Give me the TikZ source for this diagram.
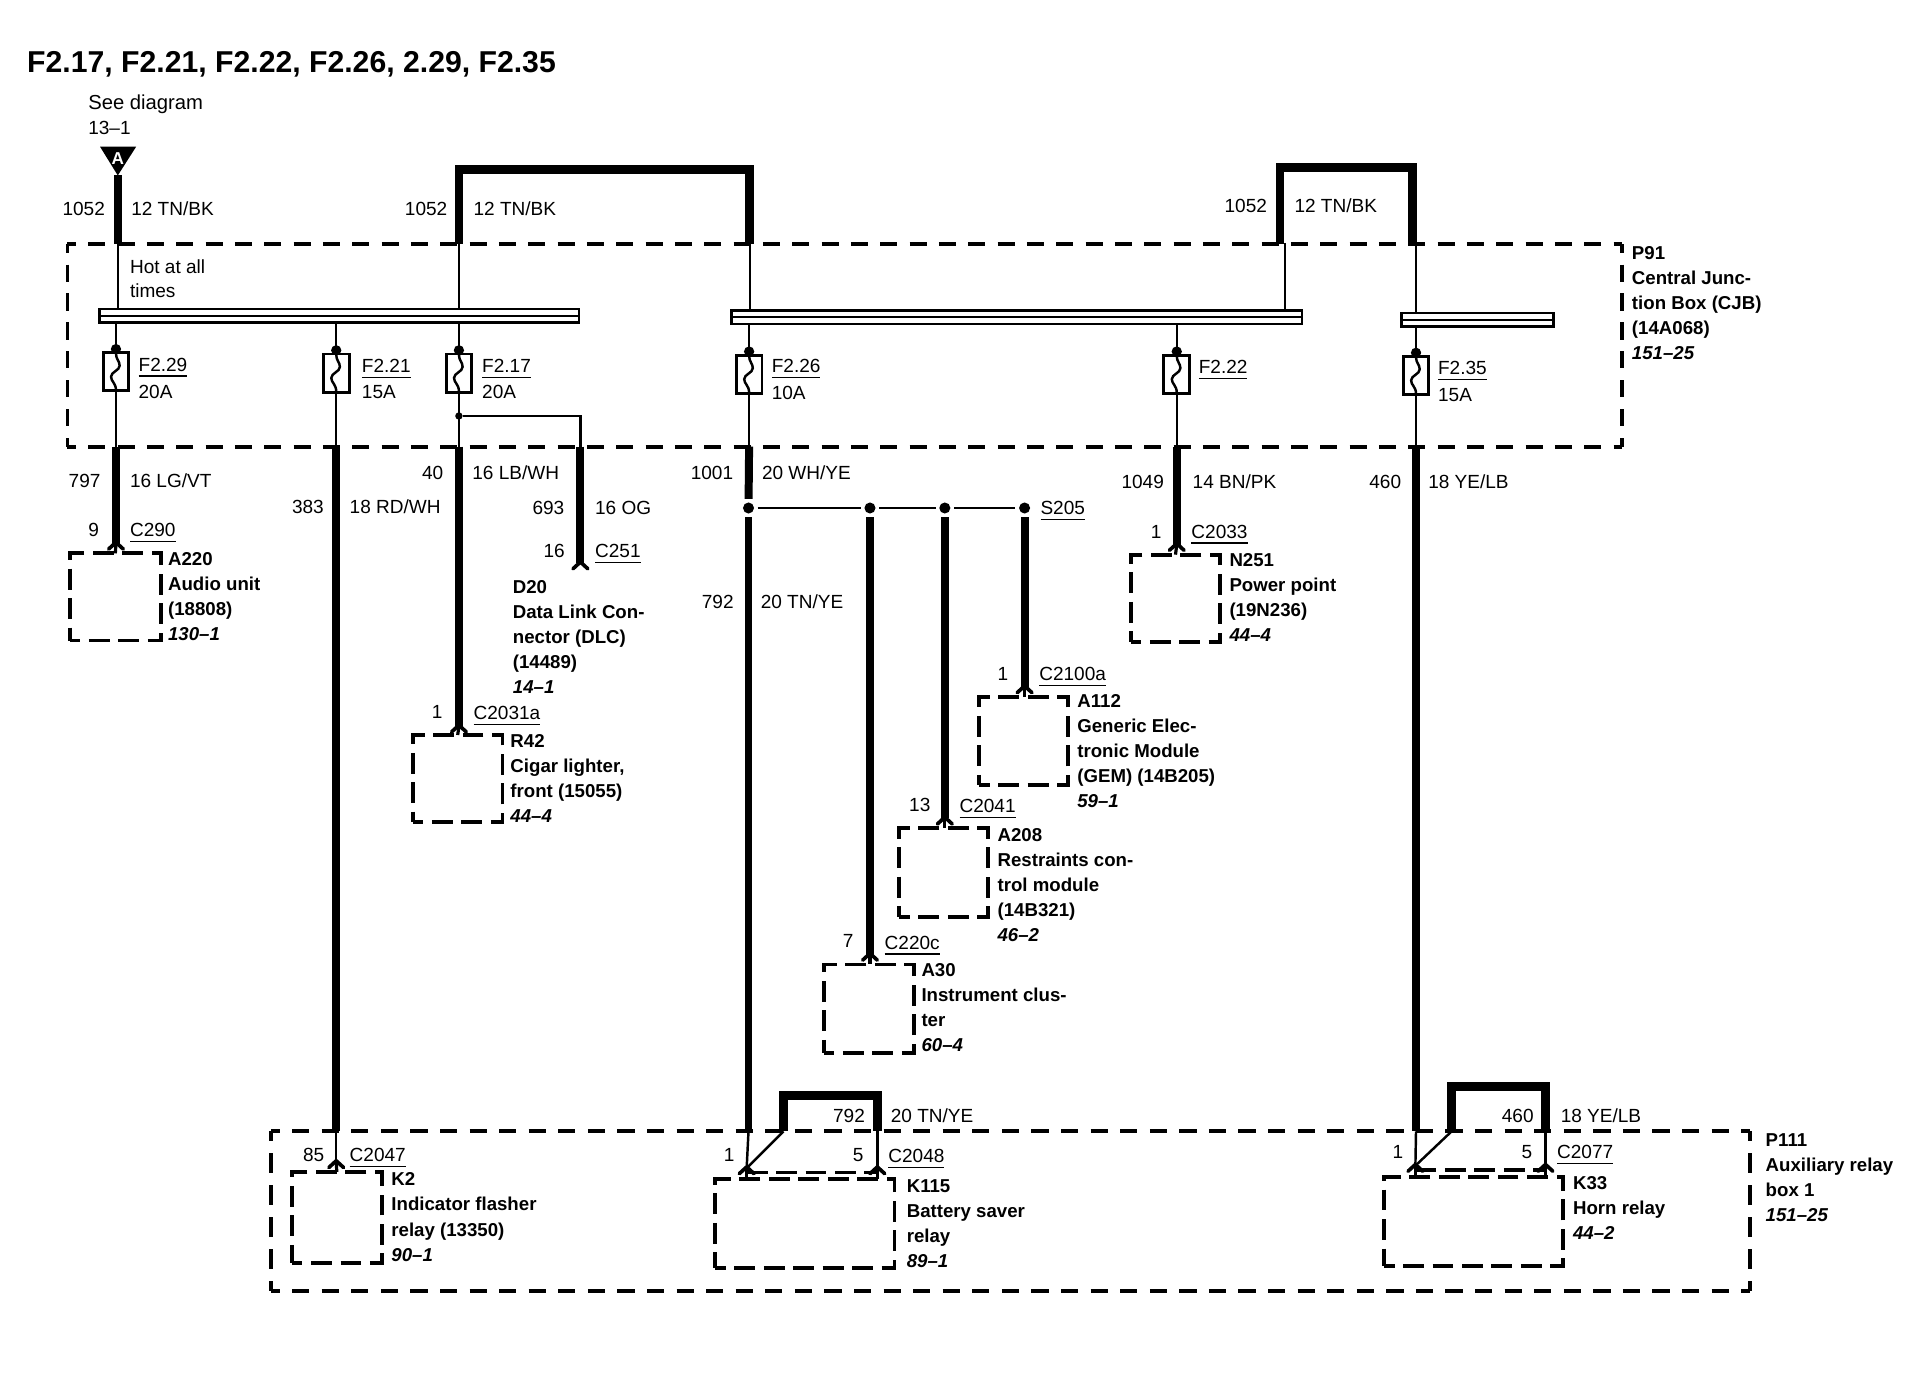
\documentclass[tikz,border=0pt]{standalone}
\usepackage{fontspec}
\setmainfont{Liberation Sans}
\newcounter{tnum}
\tikzset{
  x=1pt,y=-1pt,
  wthick/.style={line width=6.5,line cap=butt,line join=miter},
  wloop/.style={line width=7,line cap=butt,line join=miter},
  wthin/.style={line width=2,line cap=butt},
  dbox/.style={draw,line width=3.2,dash pattern=on 17 off 7,dash phase=8.5,inner sep=0,outer sep=0,rectangle,line cap=butt},
  dframe/.style={inner sep=0,outer sep=0,rectangle},
  dside/.style={line width=3.2,line cap=square},
  busbar/.style={draw,line width=2,rectangle,inner sep=0,outer sep=0,minimum height=11},
  fusebox/.style={draw,line width=2.4,rectangle,inner sep=0,outer sep=0,minimum width=21,minimum height=31},
  splice/.style={circle,fill=black,inner sep=0,outer sep=0,minimum size=9},
  lab/.style={anchor=base west,inner sep=0,outer sep=0,font=\fontsize{15.5}{20}\selectfont},
  blk/.style={anchor=north west,inner sep=0,outer sep=0,align=left,font=\fontsize{15.2}{20.4}\selectfont\bfseries},
  chevline/.style={line width=3,line cap=round,line join=round}
}
\newcommand{\T}[3]{\stepcounter{tnum}\node[lab] (t\arabic{tnum}) at (#1,{#2+5.5}) {#3};}
\newcommand{\U}[3]{\stepcounter{tnum}\node[lab] (t\arabic{tnum}) at (#1,{#2+5.5}) {\setbox0\hbox{#3}\rlap{\copy0}\rule[-4.5pt]{\wd0}{1pt}\hspace{0pt}};}
\newcommand{\B}[3]{\stepcounter{tnum}\node[blk] (t\arabic{tnum}) at (#1,{#2-6.5}) {\rule{0pt}{12pt}#3};}
\newcommand{\PR}[1]{{\itshape #1}}
\newcommand{\fuseat}[3]{%
  \node[fusebox] (#1) at (#2,#3) {};
  \fill (#1.north) ++(0,-3) circle (4.2);
  \draw[wthin,shift={(#2,#3)}] (0,-15) .. controls (0,-10) and (3,-9) .. (3,-5)
     .. controls (3,-1) and (-4,0) .. (-4,4) .. controls (-4,8) and (0,9) .. (0,15);
}
\newcommand{\chev}[2]{%
  \draw[chevline] (#1) ++(-6,4.5) -- ++(6,-5.5) -- ++(6,5.5);
  \draw[line width=2.6] (#1) -- (#2);
}
\begin{document}
\begin{tikzpicture}
\useasboundingbox (0,0) rectangle (1568,1121.4);
\fill[white] (0,0) rectangle (1568,1121.4);

% enclosures
\node[dframe,minimum width=1267,minimum height=165] (p91) at (688.5,281.5) {};
\node[dframe,minimum width=1205,minimum height=130] (p111) at (823.5,987) {};
\draw[dside,dash pattern=on 14 off 9.906,dash phase=7] (p91.north west) -- (p91.north east);
\draw[dside,dash pattern=on 14 off 9.906,dash phase=7] (p91.south west) -- (p91.south east);
\draw[dside,dash pattern=on 14 off 9.57,dash phase=7] (p91.north west) -- (p91.south west);
\draw[dside,dash pattern=on 14 off 9.57,dash phase=7] (p91.north east) -- (p91.south east);
\draw[dside,dash pattern=on 14 off 10.1,dash phase=7] (p111.north west) -- (p111.north east);
\draw[dside,dash pattern=on 14 off 10.1,dash phase=7] (p111.south west) -- (p111.south east);
\draw[dside,dash pattern=on 16 off 10,dash phase=8] (p111.north west) -- (p111.south west);
\draw[dside,dash pattern=on 16 off 10,dash phase=8] (p111.north east) -- (p111.south east);

% bus bars
\node[busbar,minimum width=391] (bar1) at (276.5,257.5) {};
\node[busbar,minimum width=465] (bar2) at (828.5,258.5) {};
\node[busbar,minimum width=124] (bar3) at (1204,260.5) {};
\foreach \b in {bar1,bar2,bar3} \draw[line width=1.6] (\b.west) -- (\b.east);

% fuses
\fuseat{f29}{94.5}{303}
\fuseat{f21}{274}{304}
\fuseat{f17}{374}{304}
\fuseat{f26}{610.5}{305}
\fuseat{f22}{959}{305}
\fuseat{f35}{1154}{306}

% components
\node[dbox,minimum width=74,minimum height=71] (a220) at (94,486.5) {};
\node[dbox,minimum width=73,minimum height=71] (r42) at (373,634.5) {};
\node[dbox,minimum width=73,minimum height=71] (n251) at (958,487.5) {};
\node[dbox,minimum width=72,minimum height=72] (a112) at (834,604) {};
\node[dbox,minimum width=72,minimum height=72] (a208) at (769,711) {};
\node[dbox,minimum width=73,minimum height=72] (a30) at (708,822) {};
\node[dbox,minimum width=73,minimum height=74] (k2) at (274.5,992) {};
\node[dbox,minimum width=146,minimum height=72] (k115) at (656,997) {};
\node[dbox,minimum width=146,minimum height=73] (k33) at (1201,995.5) {};

% named points
\coordinate (tipA) at (96,143);
\coordinate (c290) at (94.5,443);
\coordinate (c2031) at (374,592);
\coordinate (c2033) at (959,444);
\coordinate (c2100) at (835,560);
\coordinate (c2041) at (770,667);
\coordinate (c220) at (709,778);
\coordinate (c2047) at (274,947);
\coordinate (k115a) at (608.5,952);
\coordinate (k115b) at (715,952);
\coordinate (k115ap) at (608.5,961);
\coordinate (k115bp) at (715,961);
\coordinate (k33a) at (1153.5,950);
\coordinate (k33b) at (1259.5,950);
\coordinate (k33ap) at (1153.5,959);
\coordinate (k33bp) at (1259.5,959);
\coordinate (d20) at (473,459);
\node[circle,fill=black,inner sep=0,minimum size=6] (j17) at (374,339) {};
\coordinate (j17r) at (473,339);
\coordinate (loopA1) at (374,138);
\coordinate (loopA2) at (611,138);
\coordinate (loopB1) at (1043,136.5);
\coordinate (loopB2) at (1151,136.5);
\coordinate (loopB1p) at (1047,198);
\coordinate (loopB2p) at (1154,198);
\coordinate (loopC1) at (638.5,893);
\coordinate (loopC2) at (715,893);
\coordinate (loopD1) at (1183,885.5);
\coordinate (loopD2) at (1259.5,885.5);

% feed triangle
\fill (81.5,119.5) -- (111,119.5) -- (tipA) -- cycle;
\node[inner sep=0,text=white,font=\fontsize{14}{14}\selectfont\bfseries] (connA) at (96,129) {A};

% feed wires
\draw[wthick] (tipA) -- (tipA |- p91.north);
\draw[wthin] (tipA |- p91.north) -- (tipA |- bar1.north);
\draw[wloop] (loopA1 |- p91.north) -- (loopA1) -- (loopA2) -- (loopA2 |- p91.north);
\draw[wthin] (loopA1 |- p91.north) -- (loopA1 |- bar1.north);
\draw[wthin] (loopA2 |- p91.north) -- (loopA2 |- bar2.north);
\draw[wloop] (loopB1 |- p91.north) -- (loopB1) -- (loopB2) -- (loopB2 |- p91.north);
\draw[wthin] (loopB1p) -- (loopB1p |- bar2.north);
\draw[wthin] (loopB2p) -- (loopB2p |- bar3.north);

% bars to fuses
\foreach \f/\b in {f29/bar1,f21/bar1,f17/bar1,f26/bar2,f22/bar2,f35/bar3}
  \draw[wthin] (\f.north |- \b.south) -- (\f.north);
\foreach \f in {f29,f21,f17,f26,f22,f35}
  \draw[wthin] (\f.south) -- (\f.south |- p91.south);

% branch at F2.17
\draw[wthin] (j17) -- (j17r) -- (j17r |- p91.south);

% output wires
\draw[wthick] (f29.south |- p91.south) -- (c290);
\chev{c290}{a220.north}
\draw[wthick] (f21.south |- p91.south) -- (f21.south |- p111.north);
\draw[wthin] (f21.south |- p111.north) -- (c2047);
\chev{c2047}{k2.north}
\draw[wthick] (f17.south |- p91.south) -- (c2031);
\chev{c2031}{r42.north}
\draw[wthick] (j17r |- p91.south) -- (d20);
\chev{d20}{d20}
\draw[wthick] (f22.south |- p91.south) -- (c2033);
\chev{c2033}{n251.north}
\draw[wthick] (f35.south |- p91.south) -- (f35.south |- p111.north);

% splice S205
\node[splice] (s1) at (610,414) {};
\node[splice] (s2) at (709,414) {};
\node[splice] (s3) at (770,414) {};
\node[splice] (s4) at (835,414) {};
\draw[wthick,shorten >=3] (f26.south |- p91.south) -- (s1);
\draw[wthin,shorten <=3,shorten >=3] (s1) -- (s2);
\draw[wthin,shorten <=3,shorten >=3] (s2) -- (s3);
\draw[wthin,shorten <=3,shorten >=3] (s3) -- (s4);
\draw[wthick,shorten <=3] (s1) -- (s1 |- p111.north);
\draw[wthick,shorten <=3] (s2) -- (c220);
\chev{c220}{a30.north -| c220}
\draw[wthick,shorten <=3] (s3) -- (c2041);
\chev{c2041}{a208.north -| c2041}
\draw[wthick,shorten <=3] (s4) -- (c2100);
\chev{c2100}{a112.north -| c2100}

% K115 relay
\draw[wthin] (s1 |- p111.north) -- (k115a);
\draw[wloop] (loopC1 |- p111.north) -- (loopC1) -- (loopC2) -- (loopC2 |- p111.north);
\draw[line width=2] (loopC1 |- p111.north) -- (k115a);
\draw[wthin] (loopC2 |- p111.north) -- (k115b);
\chev{k115a}{k115ap}
\chev{k115b}{k115bp}
\draw[line width=3,dash pattern=on 17 off 7] ([yshift=-3.6]k115a) -- ([yshift=-3.6]k115b);

% K33 relay
\draw[wthin] (f35.south |- p111.north) -- (k33a);
\draw[wloop] (loopD1 |- p111.north) -- (loopD1) -- (loopD2) -- (loopD2 |- p111.north);
\draw[line width=2] (loopD1 |- p111.north) -- (k33a);
\draw[wthin] (loopD2 |- p111.north) -- (k33b);
\chev{k33a}{k33ap}
\chev{k33b}{k33bp}
\draw[line width=3,dash pattern=on 17 off 7] ([yshift=-3.6]k33a) -- ([yshift=-3.6]k33b);

% title
\node[anchor=base west,inner sep=0,font=\fontsize{24.6}{28}\selectfont\bfseries] (title) at (22,59) {F2.17, F2.21, F2.22, F2.26, 2.29, F2.35};

% labels
\node[lab,font=\fontsize{16.5}{20}\selectfont] (seeA) at (72,89.5) {See diagram};
\T{72}{104}{13–1}
\T{51}{170}{1052}
\T{107}{170}{12 TN/BK}
\T{330}{170}{1052}
\T{386}{170}{12 TN/BK}
\T{998}{168}{1052}
\T{1055}{168}{12 TN/BK}
\T{106}{217}{Hot at all}
\T{106}{237}{times}
\U{113}{297}{F2.29}
\T{113}{319}{20A}
\U{295}{298}{F2.21}
\T{295}{319}{15A}
\U{393}{298}{F2.17}
\T{393}{319}{20A}
\U{629}{298}{F2.26}
\T{629}{320}{10A}
\U{977}{299}{F2.22}
\U{1172}{300}{F2.35}
\T{1172}{322}{15A}
\T{56}{392}{797}
\T{106}{392}{16 LG/VT}
\T{238}{413}{383}
\T{285}{413}{18 RD/WH}
\T{344}{385}{40}
\T{385}{385}{16 LB/WH}
\T{434}{414}{693}
\T{485}{414}{16 OG}
\T{563}{385}{1001}
\T{621}{385}{20 WH/YE}
\T{914}{393}{1049}
\T{972}{393}{14 BN/PK}
\T{1116}{393}{460}
\T{1164}{393}{18 YE/LB}
\T{72}{432}{9}
\U{106}{432}{C290}
\T{443}{449}{16}
\U{485}{449}{C251}
\T{352}{580}{1}
\U{386}{581}{C2031a}
\T{572}{490}{792}
\T{620}{490}{20 TN/YE}
\U{848}{414}{S205}
\T{938}{433}{1}
\U{971}{433}{C2033}
\T{813}{549}{1}
\U{847}{549}{C2100a}
\T{741}{656}{13}
\U{782}{657}{C2041}
\T{687}{767}{7}
\U{721}{768}{C220c}
\T{679}{909}{792}
\T{726}{909}{20 TN/YE}
\T{1224}{909}{460}
\T{1272}{909}{18 YE/LB}
\T{247}{941}{85}
\U{285}{941}{C2047}
\T{590}{941}{1}
\T{695}{941}{5}
\U{724}{942}{C2048}
\T{1135}{939}{1}
\T{1240}{939}{5}
\U{1269}{939}{C2077}

\B{137}{455}{A220\\Audio unit\\(18808)\\\PR{130–1}}
\B{418}{478}{D20\\Data Link Con-\\nector (DLC)\\(14489)\\\PR{14–1}}
\B{416}{604}{R42\\Cigar lighter,\\front (15055)\\\PR{44–4}}
\B{1002}{456}{N251\\Power point\\(19N236)\\\PR{44–4}}
\B{878}{571}{A112\\Generic Elec-\\tronic Module\\(GEM) (14B205)\\\PR{59–1}}
\B{813}{680}{A208\\Restraints con-\\trol module\\(14B321)\\\PR{46–2}}
\B{751}{790}{A30\\Instrument clus-\\ter\\\PR{60–4}}
\B{319}{961}{K2\\Indicator flasher\\relay (13350)\\\PR{90–1}}
\B{739}{966}{K115\\Battery saver\\relay\\\PR{89–1}}
\B{1282}{964}{K33\\Horn relay\\\PR{44–2}}
\B{1330}{206}{P91\\Central Junc-\\tion Box (CJB)\\(14A068)\\\PR{151–25}}
\B{1439}{929}{P111\\Auxiliary relay\\box 1\\\PR{151–25}}
\end{tikzpicture}
\end{document}
